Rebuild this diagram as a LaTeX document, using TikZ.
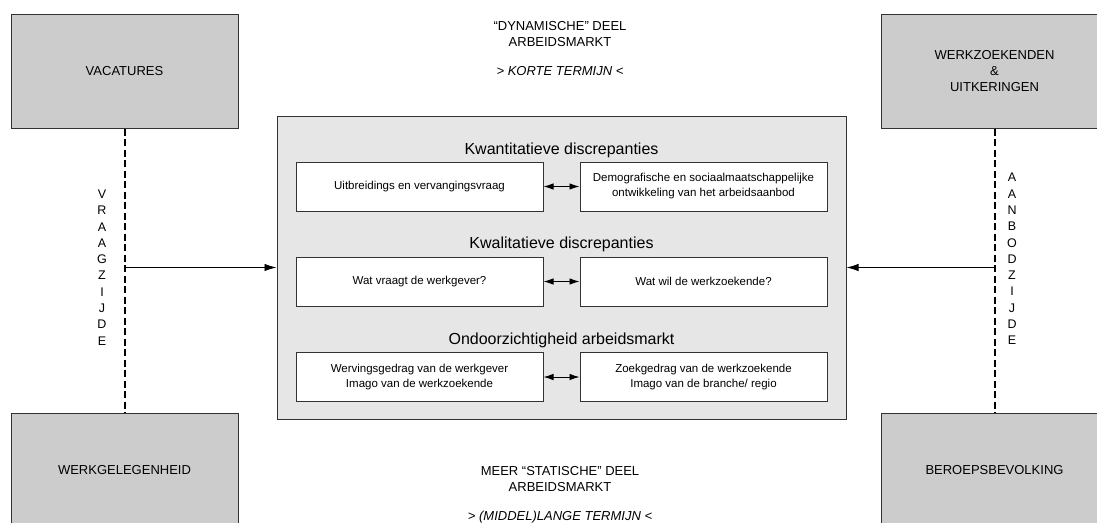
\documentclass[tikz,border=0pt]{standalone}
\usepackage{fontspec}
\setmainfont{Liberation Sans}
\usetikzlibrary{arrows.meta,positioning}
\definecolor{boxgray}{RGB}{204,204,204}
\definecolor{panelgray}{RGB}{230,230,230}
\definecolor{linegray}{RGB}{51,51,51}
\tikzset
{
    marketbox/.style = {rectangle, draw=linegray, fill=boxgray, line width=1pt, align=center, minimum width=227pt, minimum height=114pt, font=\fontsize{13}{16}\selectfont},
    panel/.style     = {rectangle, draw=linegray, fill=panelgray, line width=1pt, minimum width=569pt, minimum height=303pt},
    factor/.style    = {rectangle, draw=linegray, fill=white, line width=1pt, align=center, minimum width=247pt, minimum height=49pt, font=\fontsize{11.5}{15}\selectfont},
    heading/.style   = {font=\fontsize{16}{19}\selectfont},
    termtext/.style  = {align=center, font=\fontsize{13}{16}\selectfont},
    sideword/.style  = {align=center, font=\fontsize{12.5}{16.3}\selectfont},
    sidelink/.style  = {line width=2pt, dash pattern=on 7pt off 3.5pt},
    feed/.style      = {-{Latex[length=12pt,width=7.5pt]}, line width=0.9pt},
    mutual/.style    = {{Latex[length=10pt,width=6.5pt]}-{Latex[length=10pt,width=6.5pt]}, line width=0.9pt}
}

\begin{document}
\begin{tikzpicture}[x=1pt, y=-1pt]
\useasboundingbox (0,0) rectangle (1097,522);
\clip (0,0) rectangle (1097,522);

% markt blokken
\node[marketbox] (vac) at (124.5,71) {VACATURES};
\node[marketbox] (werk) at (124.5,470) {WERKGELEGENHEID};
\node[marketbox] (zoek) at (994.5,71) {WERKZOEKENDEN\\\&\\UITKERINGEN};
\node[marketbox] (beroep) at (994.5,470) {BEROEPSBEVOLKING};

% middenpaneel
\node[panel] (mid) at (561.5,267.5) {};
\node[heading] (kwant) at (561.5,150) {Kwantitatieve discrepanties};
\node[factor] (kwantl) at (419.5,186.5) {Uitbreidings en vervangingsvraag};
\node[factor, right=36pt of kwantl] (kwantr) {Demografische en sociaalmaatschappelijke\\ontwikkeling van het arbeidsaanbod};
\node[heading] (kwal) at (561.5,244.5) {Kwalitatieve discrepanties};
\node[factor] (kwall) at (419.5,281.5) {Wat vraagt de werkgever?};
\node[factor, right=36pt of kwall] (kwalr) {Wat wil de werkzoekende?};
\node[heading] (ondoor) at (561.5,340.5) {Ondoorzichtigheid arbeidsmarkt};
\node[factor] (ondl) at (419.5,377) {Wervingsgedrag van de werkgever\\Imago van de werkzoekende};
\node[factor, right=36pt of ondl] (ondr) {Zoekgedrag van de werkzoekende\\Imago van de branche/ regio};

\draw[mutual] (kwantl) -- (kwantr);
\draw[mutual] (kwall) -- (kwalr);
\draw[mutual] (ondl) -- (ondr);

% vraag- en aanbodzijde
\draw[sidelink] (vac) -- (werk);
\draw[sidelink] (zoek) -- (beroep);
\coordinate (vraagpunt) at (vac.south |- mid.west);
\coordinate (aanbodpunt) at (zoek.south |- mid.east);
\draw[feed] (vraagpunt) -- (mid.west);
\draw[feed] (aanbodpunt) -- (mid.east);
\node[sideword] (vraag) at (102,267.5) {V\\R\\A\\A\\G\\Z\\I\\J\\D\\E};
\node[sideword] (aanbod) at (1012,259) {A\\A\\N\\B\\O\\D\\Z\\I\\J\\D\\E};

% termijnen
\node[termtext] (kort) at (560,48.5) {“DYNAMISCHE” DEEL\\ARBEIDSMARKT\\[13pt]\textit{> KORTE TERMIJN <}};
\node[termtext] (lang) at (560,495) {MEER “STATISCHE” DEEL\\ARBEIDSMARKT\\[13pt]\textit{> (MIDDEL)LANGE TERMIJN <}};
\end{tikzpicture}
\end{document}
